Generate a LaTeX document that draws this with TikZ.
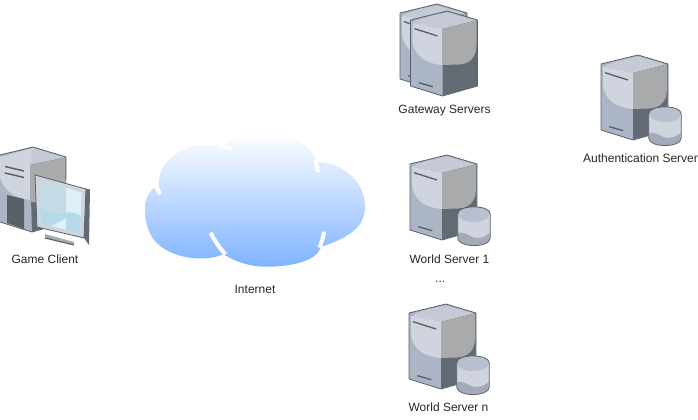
\documentclass[tikz,border=0pt]{standalone}
\usepackage{fontspec}
\setmainfont{Liberation Sans}
\usepackage{tikz}
\usetikzlibrary{positioning}
\definecolor{edgegray}{HTML}{5A6068}
\definecolor{frontblue}{HTML}{ABB5C6}
\definecolor{glossblue}{HTML}{D0D4DF}
\definecolor{topblue}{HTML}{C6CAD6}
\definecolor{sidegray}{HTML}{A8AAAC}
\definecolor{sidedark}{HTML}{626B73}
\definecolor{diskshade}{HTML}{A3ABBB}
\definecolor{disktop}{HTML}{B8BFCE}
\definecolor{screenlight}{HTML}{DDF0F9}
\definecolor{screenwave}{HTML}{B4DAEA}
\definecolor{screengray}{HTML}{C4DAE4}
\definecolor{cloudblue}{HTML}{7FB3FF}
\tikzset{
  lbl/.style={font=\fontsize{9pt}{11pt}\selectfont, text=black!85, inner sep=0pt},
  edgeline/.style={draw=edgegray, line width=0.6pt, line join=round},
  slotline/.style={draw=edgegray, line width=1pt},
  cut/.style={draw=white, line width=3pt},
  server/.pic={
    \path[fill=frontblue] (37,0) -- (67,9) -- (67,75) -- (32,85) -- (0,75) -- (0,9) -- cycle;
    \fill[topblue] (5,10) .. controls (15,6) and (28,3) .. (37,1.5) -- (65,9.5) -- (32,18) -- (32,54)
      .. controls (14,52) and (3,45) .. (2,28) .. controls (1.5,16) and (2,12) .. (5,10) -- cycle;
    \fill[glossblue] (2,22) -- (32,30) -- (32,54) .. controls (14,52) and (3,45) .. (2,28) -- cycle;
    \fill[glossblue] (2,12) -- (32,18) -- (32,30) -- (2,22) -- cycle;
    \fill[sidedark] (32,18) -- (66.5,9.3) -- (66.5,75) -- (32,84.5) -- cycle;
    \fill[sidegray] (32,18) -- (66,9.5) -- (66,33) .. controls (66,47) and (59,53) .. (48,53.5) -- (32,54) -- cycle;
    \draw[edgeline] (37,0) -- (67,9) -- (67,75) -- (32,85) -- (0,75) -- (0,9) -- cycle;
    \draw[slotline] (4,17.7) -- (27,25);
    \draw[slotline] (8.3,71.7) -- (22.3,75.7);
  },
  dbdisk/.pic={
    \path[fill=glossblue] (0,7) -- (0,31) .. controls (0,36) and (8,38.5) .. (16,38.5)
      .. controls (25,38.5) and (32.5,36) .. (32.5,31) -- (32.5,7)
      .. controls (32.5,2) and (25,0) .. (16,0) .. controls (8,0) and (0,2) .. (0,7) -- cycle;
    \fill[disktop] (0.5,7) .. controls (0.5,2.5) and (8,0.5) .. (16,0.5) .. controls (25,0.5) and (32,2.5) .. (32,7)
      .. controls (32,12) and (25,15) .. (16,15) .. controls (8,15) and (0.5,12) .. (0.5,7) -- cycle;
    \fill[diskshade] (0.5,26) .. controls (8,24) and (12,31) .. (20,31)
      .. controls (26,31) and (29,28) .. (32,26) -- (32,31) .. controls (32,35.5) and (25,38) .. (16,38)
      .. controls (8,38) and (0.5,35.5) .. (0.5,31) -- cycle;
    \draw[edgeline] (0,7) -- (0,31) .. controls (0,36) and (8,38.5) .. (16,38.5)
      .. controls (25,38.5) and (32.5,36) .. (32.5,31) -- (32.5,7)
      .. controls (32.5,2) and (25,0) .. (16,0) .. controls (8,0) and (0,2) .. (0,7) -- cycle;
  },
  dbserver/.pic={
    \pic {server};
    \pic at (47.7,52) {dbdisk};
  }
}
\begin{document}
\begin{tikzpicture}[x=0.75pt, y=-0.75pt]
    \useasboundingbox (0,0) rectangle (698,420);
    % client
    \path[fill=frontblue] (0,155) -- (33,147) -- (66,157) -- (66,222) -- (32,232) -- (0,222) -- cycle;
    \fill[glossblue] (0,157) -- (33,148) -- (30,165) -- (30,200) .. controls (14,198) and (4,190) .. (0,178) -- cycle;
    \fill[topblue] (33,148) -- (65,157.5) -- (30,165) -- cycle;
    \fill[sidedark] (30,165) -- (65.5,157.5) -- (65.5,222) -- (32,231.5) -- cycle;
    \fill[sidegray] (30,165) -- (65.5,157.5) -- (65.5,202) -- (30,202) -- cycle;
    \draw[edgeline] (0,155) -- (33,147) -- (66,157) -- (66,180);
    \draw[edgeline] (66,222) -- (32,232) -- (0,222);
    \draw[line width=1.1pt, edgegray] (5,166.5) -- (24,171);
    \draw[line width=1.1pt, edgegray] (5,173) -- (24,177.5);
    \fill[edgegray] (7,195) -- (24,199) -- (24,229) -- (7,223) -- cycle;
    \fill[sidegray] (45,234) -- (74,242) -- (74,245) -- (45,238) -- cycle;
    \draw[edgegray, line width=0.8pt] (45,238) -- (74,245);
    \fill[sidedark] (85,188.5) -- (90,189.5) -- (89,245) -- (84,238) -- cycle;
    \path[draw=edgegray, line width=0.6pt, fill=glossblue] (35,175) -- (86,189) -- (84,238) -- (37,227) -- cycle;
    \fill[screenlight] (40,181) -- (81.7,192.3) -- (80,233.3) -- (41,223.3) -- cycle;
    \fill[screengray] (40,181) -- (66,188) -- (66,218) -- (50,226) -- (41,223.3) -- cycle;
    \fill[screenwave] (40,205) .. controls (46,214) and (56,216) .. (64,213)
      .. controls (70,211) and (76,213) .. (81,216) -- (80,233.3) -- (66,229.5) -- (66,218) -- (50,226) -- (41,223.3) -- cycle;
    % cloud
    \begin{scope}[shift={(140,125)}, scale=1/3]
      \shade[top color=white, bottom color=cloudblue]
        (262,55) .. controls (300,25) and (345,22) .. (370,22)
        .. controls (450,22) and (515,60) .. (528,110)
        -- (535,110) .. controls (610,115) and (675,170) .. (675,245)
        .. controls (675,310) and (620,340) .. (545,365)
        -- (532,385) .. controls (510,410) and (450,425) .. (380,425)
        .. controls (320,425) and (280,405) .. (250,388)
        .. controls (210,405) and (150,405) .. (100,385)
        .. controls (50,365) and (15,330) .. (15,250)
        .. controls (15,220) and (30,195) .. (48,185)
        -- (58,190) .. controls (45,110) and (130,60) .. (190,60)
        .. controls (215,60) and (240,62) .. (262,55) -- cycle;
      \draw[cut] (535,142) -- (526,105);
      \draw[cut] (275,72) -- (238,60);
      \draw[cut] (60,207) -- (46,180);
      \draw[cut] (212,323) .. controls (225,350) and (240,370) .. (256,388);
      \draw[cut] (552,320) .. controls (550,335) and (546,350) .. (538,368);
    \end{scope}
    % servers
    \pic (gwback) at (400,4) {server};
    \pic (gwfront) at (410.5,11) {server};
    \pic (auth) at (601,55) {dbserver};
    \pic (ws1) at (410,155) {dbserver};
    \pic (wsn) at (409,304) {dbserver};
    % labels
    \node[lbl] (clientlbl) at (45,259.5) {Game Client};
    \node[lbl] (netlbl) at (255,289.5) {Internet};
    \node[lbl] (gwlbl) at (444.5,110.5) {Gateway Servers};
    \node[lbl] (authlbl) at (640.5,158.5) {Authentication Server};
    \node[lbl] (ws1lbl) at (449.5,259.5) {World Server 1};
    \node[lbl, below=12.5pt of ws1lbl, xshift=-7pt] (dotslbl) {...};
    \node[lbl] (wsnlbl) at (448.5,407.5) {World Server n};
\end{tikzpicture}
\end{document}
